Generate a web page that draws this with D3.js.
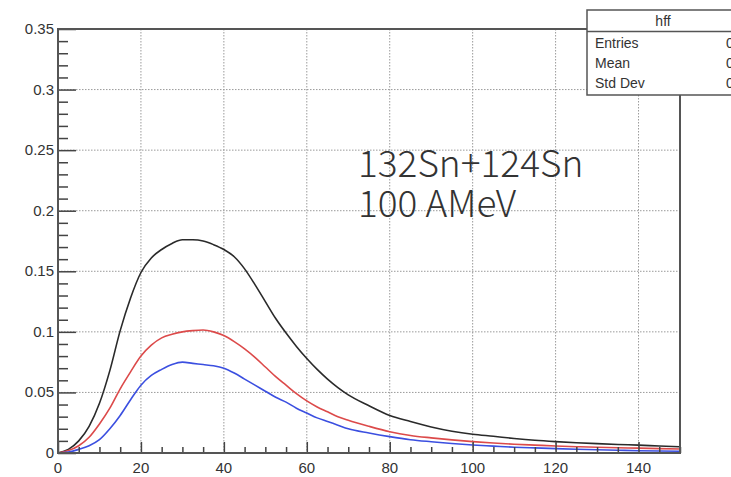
<!DOCTYPE html>
<html>
<head>
<meta charset="utf-8">
<script src="https://cdn.jsdelivr.net/npm/d3@7"></script>
<style>
  body { margin: 0; background: #fff; }
  svg { display: block; }
</style>
</head>
<body>
<script>
// values
var xs = [0, 2.5, 5, 7.5, 10, 12.5, 15, 17.5, 20, 22.5, 25, 27.5, 30, 32.5, 35, 37.5, 40, 42.5, 45, 47.5,
          50, 52.5, 55, 57.5, 60, 62.5, 65, 67.5, 70, 75, 80, 85, 90, 95, 100, 105, 110, 115, 120, 125,
          130, 135, 140, 145, 150];
var blackVals = [0, 0.003, 0.010, 0.022, 0.041, 0.068, 0.101, 0.128, 0.149, 0.161, 0.168, 0.173, 0.176, 0.176, 0.175, 0.172, 0.168, 0.162, 0.152, 0.139,
                 0.125, 0.111, 0.099, 0.088, 0.078, 0.069, 0.061, 0.054, 0.048, 0.039, 0.031, 0.026, 0.0215, 0.018, 0.0155, 0.0138, 0.012, 0.0105, 0.0094, 0.0085,
                 0.0077, 0.0070, 0.0065, 0.0058, 0.0052];
var redVals = [0, 0.002, 0.006, 0.013, 0.024, 0.037, 0.053, 0.067, 0.080, 0.089, 0.095, 0.098, 0.100, 0.101, 0.1015, 0.100, 0.097, 0.092, 0.086, 0.079,
               0.071, 0.063, 0.056, 0.049, 0.043, 0.038, 0.034, 0.030, 0.027, 0.022, 0.0176, 0.0145, 0.0125, 0.0108, 0.0094, 0.0082, 0.0072, 0.0065, 0.0058, 0.0052,
               0.0047, 0.0043, 0.0040, 0.0036, 0.0033];
var blueVals = [0, 0.0008, 0.003, 0.006, 0.011, 0.020, 0.031, 0.044, 0.056, 0.064, 0.069, 0.073, 0.075, 0.074, 0.073, 0.072, 0.070, 0.066, 0.061, 0.056,
                0.051, 0.046, 0.042, 0.037, 0.033, 0.029, 0.026, 0.023, 0.020, 0.0165, 0.0135, 0.011, 0.0093, 0.0078, 0.0066, 0.0057, 0.0048, 0.0042, 0.0036, 0.0031,
                0.0027, 0.0023, 0.0019, 0.0017, 0.0015];
var xTicks = [0, 20, 40, 60, 80, 100, 120, 140];
var yTicks = [0, 0.05, 0.1, 0.15, 0.2, 0.25, 0.3, 0.35];
var statsTitle = "hff";
var statsRows = ["Entries", "Mean", "Std Dev"];
var statsValues = ["0", "0", "0"];
var noteLines = ["132Sn+124Sn", "100 AMeV"];

var W = 731, H = 477;
var padL = 58, padR = 680, padT = 29, padB = 453;

var svg = d3.select("body").append("svg")
    .attr("width", W)
    .attr("height", H);

var x = d3.scaleLinear().domain([0, 150]).range([padL, padR]);
var y = d3.scaleLinear().domain([0, 0.35]).range([padB, padT]);

// grid
var grid = svg.append("g")
    .attr("stroke", "#9a9a9a")
    .attr("stroke-width", 1)
    .attr("stroke-dasharray", "1.5,1.5");
grid.selectAll(".gx").data(xTicks.filter(function(d) { return d > 0; }))
    .enter().append("line")
    .attr("x1", function(d) { return x(d); })
    .attr("x2", function(d) { return x(d); })
    .attr("y1", padT)
    .attr("y2", padB);
grid.selectAll(".gy").data(yTicks.filter(function(d) { return d > 0 && d < 0.35; }))
    .enter().append("line")
    .attr("x1", padL)
    .attr("x2", padR)
    .attr("y1", function(d) { return y(d); })
    .attr("y2", function(d) { return y(d); });

// curves
var series = [
    { vals: blackVals, color: "#2a2a2a" },
    { vals: redVals, color: "#dc4a4a" },
    { vals: blueVals, color: "#3b4fe0" }
];
var line = d3.line()
    .x(function(d) { return x(d[0]); })
    .y(function(d) { return y(d[1]); })
    .curve(d3.curveMonotoneX);
series.forEach(function(s) {
    svg.append("path")
        .datum(xs.map(function(v, i) { return [v, s.vals[i]]; }))
        .attr("fill", "none")
        .attr("stroke", s.color)
        .attr("stroke-width", 1.6)
        .attr("d", line);
});

// axes: ROOT-like ticks pointing inward
var xAxis = d3.axisTop(x)
    .tickValues(d3.range(0, 151, 5))
    .tickSize(0)
    .tickFormat("");
var gx = svg.append("g").attr("transform", "translate(0," + padB + ")").call(xAxis);
gx.select(".domain").remove();
gx.selectAll(".tick line")
    .attr("stroke", "#444")
    .attr("stroke-width", 1.5)
    .attr("y2", function(d) { return d % 20 === 0 ? -11 : -6; });

var yAxis = d3.axisRight(y)
    .tickValues(d3.range(0, 36).map(function(i) { return i / 100; }))
    .tickSize(0)
    .tickFormat("");
var gy = svg.append("g").attr("transform", "translate(" + padL + ",0)").call(yAxis);
gy.select(".domain").remove();
gy.selectAll(".tick line")
    .attr("stroke", "#444")
    .attr("stroke-width", 1.5)
    .attr("x2", function(d, i) { return i % 5 === 0 ? 18 : 10; });

// frame
svg.append("rect")
    .attr("x", padL)
    .attr("y", padT)
    .attr("width", padR - padL)
    .attr("height", padB - padT)
    .attr("fill", "none")
    .attr("stroke", "#555")
    .attr("stroke-width", 2);

// tick labels
svg.selectAll(".xl").data(xTicks).enter().append("text")
    .attr("x", function(d) { return x(d); })
    .attr("y", 473)
    .attr("text-anchor", "middle")
    .attr("font-family", "Liberation Sans, Arial, sans-serif")
    .attr("font-size", 15)
    .attr("fill", "#333")
    .text(function(d) { return d; });

svg.selectAll(".yl").data(yTicks).enter().append("text")
    .attr("x", 54)
    .attr("y", function(d) { return y(d) + 5; })
    .attr("text-anchor", "end")
    .attr("font-family", "Liberation Sans, Arial, sans-serif")
    .attr("font-size", 15)
    .attr("fill", "#333")
    .text(function(d) { return d; });

// annotation
svg.selectAll(".note").data(noteLines).enter().append("text")
    .attr("x", 358)
    .attr("y", function(d, i) { return 177 + i * 40; })
    .attr("font-family", "Noto Sans CJK JP, Noto Sans, sans-serif")
    .attr("font-weight", 300)
    .attr("font-size", 37)
    .attr("fill", "#333")
    .text(function(d) { return d; });

// stats box
var box = svg.append("g");
box.append("rect")
    .attr("x", 587)
    .attr("y", 10)
    .attr("width", 160)
    .attr("height", 85)
    .attr("fill", "#fff")
    .attr("stroke", "#555")
    .attr("stroke-width", 1.5);
box.append("line")
    .attr("x1", 587).attr("x2", 731)
    .attr("y1", 31.5).attr("y2", 31.5)
    .attr("stroke", "#555")
    .attr("stroke-width", 1.5);
box.append("text")
    .attr("x", 663)
    .attr("y", 26)
    .attr("text-anchor", "middle")
    .attr("font-family", "Liberation Sans, Arial, sans-serif")
    .attr("font-size", 14)
    .attr("fill", "#333")
    .text(statsTitle);
box.selectAll(".sr").data(statsRows).enter().append("text")
    .attr("x", 595)
    .attr("y", function(d, i) { return 48 + i * 20; })
    .attr("font-family", "Liberation Sans, Arial, sans-serif")
    .attr("font-size", 14)
    .attr("fill", "#333")
    .text(function(d) { return d; });
box.selectAll(".sv").data(statsValues).enter().append("text")
    .attr("x", 726)
    .attr("y", function(d, i) { return 48 + i * 20; })
    .attr("font-family", "Liberation Sans, Arial, sans-serif")
    .attr("font-size", 14)
    .attr("fill", "#333")
    .text(function(d) { return d; });
</script>
</body>
</html>
